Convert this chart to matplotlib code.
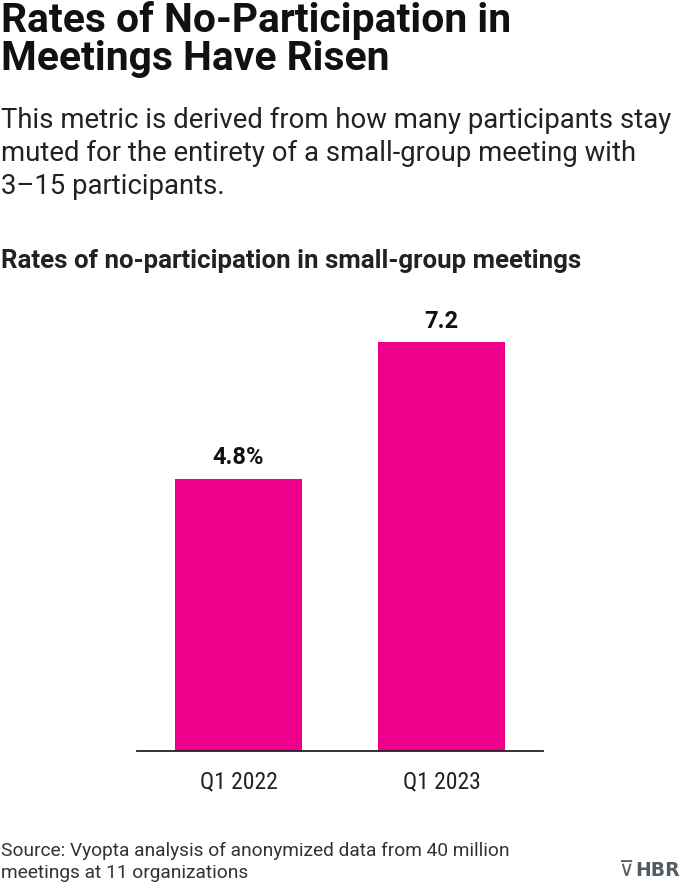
import matplotlib
matplotlib.use("Agg")
import matplotlib.pyplot as plt

categories = ["Q1 2022", "Q1 2023"]
values = [4.8, 7.2]
value_labels = ["4.8%", "7.2"]

title_lines = ["Rates of No-Participation in", "Meetings Have Risen"]
subtitle_lines = ["This metric is derived from how many participants stay",
                  "muted for the entirety of a small-group meeting with",
                  "3\u201315 participants."]
chart_title = "Rates of no-participation in small-group meetings"
source_lines = ["Source: Vyopta analysis of anonymized data from 40 million",
                "meetings at 11 organizations"]

COND = ['Roboto Condensed', 'Roboto', 'DejaVu Sans']
REG = ['Roboto', 'DejaVu Sans']
plt.rcParams['font.family'] = COND
PINK = "#EC008C"

W, H = 680, 882
fig = plt.figure(figsize=(W / 100, H / 100), dpi=100)

def fy(px):
    return 1 - px / H

def fx(px):
    return px / W

# axes placement: x 137..543, y 297..751
ax = fig.add_axes([fx(137), fy(751), fx(543 - 137), (751 - 297) / H])
x = list(range(len(categories)))
ax.bar(x, values, width=0.63, color=PINK)
ax.set_xlim(-0.5, 1.5)
ax.set_ylim(0, 8)
for s in ["top", "right", "left"]:
    ax.spines[s].set_visible(False)
ax.spines["bottom"].set_linewidth(1.3)
ax.spines["bottom"].set_color("#222222")
ax.set_yticks([])
ax.set_xticks(x)
ax.set_xticklabels(categories, fontsize=17, color="#222222")
ax.tick_params(axis="x", length=0, pad=14)
for xi, v, lab in zip(x, values, value_labels):
    ax.annotate(lab, (xi, v), xytext=(0, 7), textcoords="offset points",
                ha="center", va="bottom", fontsize=17, fontweight="bold",
                color="#111111", family=REG)

# Title
for i, line in enumerate(title_lines):
    fig.text(fx(1), fy(32 + i * 38), line, fontsize=29.3, fontweight="bold",
             color="#111111", ha="left", va="baseline", family=REG)
for i, line in enumerate(subtitle_lines):
    fig.text(fx(1), fy(128 + i * 33), line, fontsize=19.8,
             color="#222222", ha="left", va="baseline", family=REG)
fig.text(fx(1), fy(268), chart_title, fontsize=18.6, fontweight="bold",
         color="#222222", ha="left", va="baseline", family=REG)
for i, line in enumerate(source_lines):
    fig.text(fx(1), fy(856 + i * 22), line, fontsize=13.8,
             color="#333333", ha="left", va="baseline", family=REG)
fig.text(fx(680), fy(876), "HBR", fontsize=13.5, fontweight="bold",
         color="#555b63", ha="right", va="baseline", family=['DejaVu Sans'])
fig.text(fx(634), fy(876), "\u22BD", fontsize=15, color="#555b63",
         ha="right", va="baseline", family=['DejaVu Sans'])

fig.savefig("out.png", dpi=100)
